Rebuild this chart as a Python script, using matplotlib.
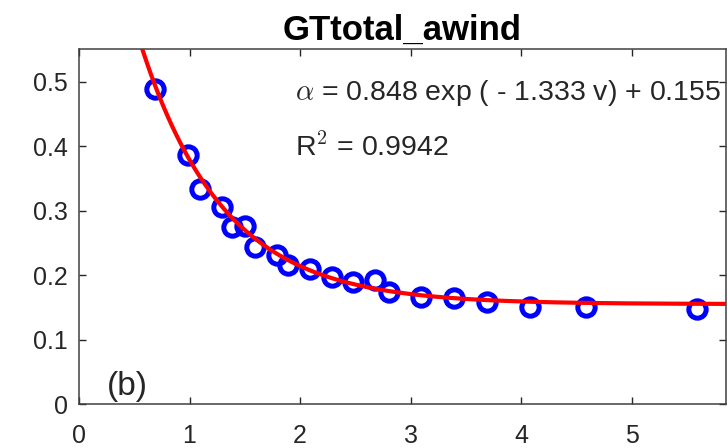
import numpy as np
import matplotlib
matplotlib.use("Agg")
import matplotlib.pyplot as plt

# measured points (wind speed v, albedo-ish coefficient)
v_obs = [0.69, 0.99, 1.09, 1.29, 1.38, 1.50, 1.59, 1.79, 1.89, 2.09,
         2.29, 2.48, 2.68, 2.80, 3.09, 3.39, 3.69, 4.08, 4.59, 5.59]
a_obs = [0.489, 0.386, 0.334, 0.306, 0.275, 0.276, 0.244, 0.231, 0.216, 0.210,
         0.197, 0.190, 0.192, 0.174, 0.166, 0.164, 0.159, 0.150, 0.150, 0.148]

# fitted model coefficients, as printed on the chart
fit_a, fit_b, fit_c = 0.848, -1.333, 0.155
r2 = 0.9942

x_ticks = [0, 1, 2, 3, 4, 5]
y_ticks = [0, 0.1, 0.2, 0.3, 0.4, 0.5]

plt.rcParams['font.family'] = ['Liberation Sans', 'DejaVu Sans']
plt.rcParams['mathtext.fontset'] = 'cm'

fig = plt.figure(figsize=(7.28, 4.48), dpi=100)
ax = fig.add_axes([0.1085, 0.098, 0.8885, 0.792])

vv = np.linspace(0.3, 5.85, 300)
ax.plot(v_obs, a_obs, 'o', mfc='none', mec=(0, 0, 1), ms=12.5, mew=3.6, zorder=2)
ax.plot(vv, fit_a * np.exp(fit_b * vv) + fit_c, color=(1, 0, 0), lw=3, zorder=3)

ax.set_xlim(0, 5.85)
ax.set_ylim(0, 0.55)
ax.set_xticks(x_ticks)
ax.set_yticks(y_ticks)
ax.set_yticklabels(['0', '0.1', '0.2', '0.3', '0.4', '0.5'])

ax.tick_params(direction='in', length=5, width=1, colors='#262626',
               top=True, right=True, labelsize=18)
ax.tick_params(axis='x', pad=14)
ax.tick_params(axis='y', pad=8)
for s in ax.spines.values():
    s.set_color('#404040')
    s.set_linewidth(1.1)

ax.set_title('GTtotal_awind', fontsize=25, fontweight='bold', pad=7)

ax.text(1.955, 0.482, r'$\alpha$' + f' = {fit_a} exp ( - {abs(fit_b)} v) + {fit_c}',
        fontsize=20.5, va='center', ha='left', color='#262626')
ax.text(1.955, 0.397, r'R$^{\mathsf{2}}$' + f' = {r2}', fontsize=20.5, va='center',
        ha='left', color='#262626')
ax.text(0.44, 0.028, '(b)', fontsize=24, va='center', ha='center', color='#262626')

fig.savefig('out.png', dpi=100)
